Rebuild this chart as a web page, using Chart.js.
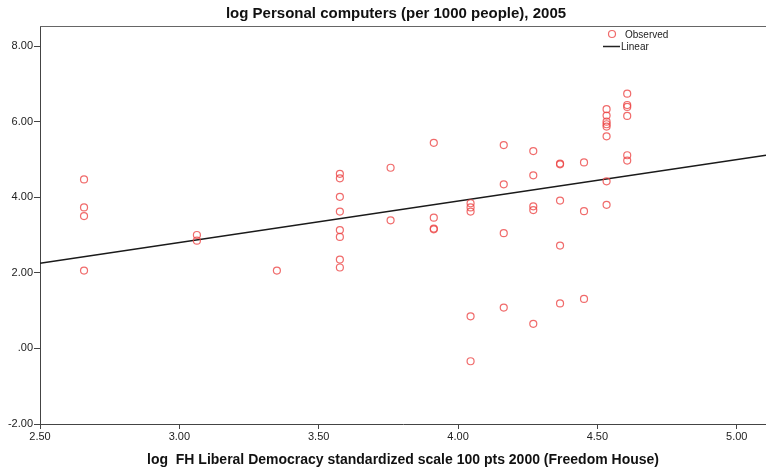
<!DOCTYPE html>
<html lang="en">
<head>
    <meta charset="UTF-8">
    <title>log Personal computers vs Liberal Democracy</title>
    <script src="https://cdn.jsdelivr.net/npm/chart.js"></script>
    <style>
        html, body { margin: 0; padding: 0; background: #fff; }
        canvas { display: block; }
    </style>
</head>
<body>
    <canvas id="scatter" width="766" height="473"></canvas>

    <script>
        // --- data ---
        const obsX = [
            2.658, 2.658, 2.658, 2.658,
            3.063, 3.063,
            3.35,
            3.576, 3.576, 3.576, 3.576, 3.576, 3.576, 3.576, 3.576,
            3.758, 3.758,
            3.913, 3.913, 3.913, 3.913,
            4.045, 4.045, 4.045, 4.045, 4.045,
            4.164, 4.164, 4.164, 4.164,
            4.27, 4.27, 4.27, 4.27, 4.27,
            4.366, 4.366, 4.366, 4.366, 4.366,
            4.452, 4.452, 4.452,
            4.533, 4.533, 4.533, 4.533, 4.533, 4.533, 4.533, 4.533,
            4.607, 4.607, 4.607, 4.607, 4.607, 4.607
        ];
        const obsY = [
            4.47, 3.73, 3.50, 2.06,
            3.00, 2.85,
            2.06,
            4.62, 4.50, 4.01, 3.62, 3.13, 2.95, 2.35, 2.14,
            4.78, 3.39,
            5.44, 3.46, 3.17, 3.15,
            3.84, 3.73, 3.62, 0.85, -0.34,
            5.38, 4.34, 3.05, 1.08,
            5.22, 4.58, 3.76, 3.66, 0.65,
            4.89, 4.87, 3.91, 2.72, 1.19,
            4.92, 3.63, 1.31,
            6.33, 6.16, 6.00, 5.93, 5.87, 5.61, 4.42, 3.80,
            6.74, 6.44, 6.39, 6.15, 5.11, 4.97
        ];

        // fitted line end points
        const fitX = [2.5, 5.105];
        const fitY = [2.25, 5.11];

        const xTicks = [2.5, 3.0, 3.5, 4.0, 4.5, 5.0];
        const yTicks = [-2, 0, 2, 4, 6, 8];

        const titleText = 'log Personal computers (per 1000 people), 2005';
        const xTitleText = 'log  FH Liberal Democracy standardized scale 100 pts 2000 (Freedom House)';

        const pointColor = 'rgba(236, 70, 70, 0.8)';
        const axisColor = '#444';
        const fontFamily = '"Liberation Sans", Arial, sans-serif';

        function fmt(v) {
            const s = Number(v).toFixed(2);
            if (s === '0.00') return '.00';
            return s;
        }

        // title, top frame line and legend
        const framePlugin = {
            id: 'frameAndLegend',
            afterDraw(chart) {
                const ctx = chart.ctx;
                const a = chart.chartArea;
                ctx.save();
                ctx.strokeStyle = '#666';
                ctx.lineWidth = 1;
                ctx.beginPath();
                ctx.moveTo(a.left, Math.round(a.top) + 0.5);
                ctx.lineTo(a.right, Math.round(a.top) + 0.5);
                ctx.stroke();

                // chart title
                ctx.font = 'bold 15px ' + fontFamily;
                ctx.fillStyle = '#111';
                ctx.textAlign = 'center';
                ctx.textBaseline = 'middle';
                ctx.fillText(titleText, 396, 14);

                // legend
                ctx.textAlign = 'left';
                ctx.font = '10px ' + fontFamily;
                ctx.fillStyle = '#222';
                ctx.strokeStyle = pointColor;
                ctx.lineWidth = 1.2;
                ctx.beginPath();
                ctx.arc(612, 34, 3.5, 0, Math.PI * 2);
                ctx.stroke();
                ctx.fillText('Observed', 625, 35);

                ctx.strokeStyle = '#222';
                ctx.lineWidth = 1.5;
                ctx.beginPath();
                ctx.moveTo(603, 46.5);
                ctx.lineTo(620, 46.5);
                ctx.stroke();
                ctx.fillText('Linear', 621, 47);
                ctx.restore();
            }
        };

        const ctx = document.getElementById('scatter').getContext('2d');
        new Chart(ctx, {
            type: 'scatter',
            data: {
                datasets: [
                    {
                        label: 'Observed',
                        data: obsX.map((x, i) => ({ x: x, y: obsY[i] })),
                        pointRadius: 3.5,
                        pointHoverRadius: 3.5,
                        borderWidth: 1.2,
                        borderColor: pointColor,
                        backgroundColor: 'rgba(0,0,0,0)'
                    },
                    {
                        type: 'line',
                        label: 'Linear',
                        data: fitX.map((x, i) => ({ x: x, y: fitY[i] })),
                        borderColor: '#1a1a1a',
                        borderWidth: 1.5,
                        pointRadius: 0,
                        fill: false
                    }
                ]
            },
            options: {
                responsive: false,
                animation: false,
                layout: { autoPadding: false, padding: { left: 0, right: 0, top: 26, bottom: 0 } },
                plugins: {
                    legend: { display: false },
                    tooltip: { enabled: false },
                    title: { display: false }
                },
                scales: {
                    x: {
                        type: 'linear',
                        min: 2.5,
                        max: 5.105,
                        afterBuildTicks: s => { s.ticks = xTicks.map(v => ({ value: v })); },
                        afterFit: s => { s.height = 49; },
                        grid: { display: true, drawOnChartArea: false, tickLength: 5, color: axisColor },
                        border: { display: true, color: axisColor, width: 1 },
                        ticks: {
                            color: '#222',
                            padding: 1,
                            maxRotation: 0,
                            font: { family: fontFamily, size: 11 },
                            callback: v => fmt(v)
                        },
                        title: {
                            display: true,
                            text: xTitleText,
                            color: '#111',
                            font: { family: fontFamily, size: 14, weight: 'bold' },
                            padding: { top: 0, bottom: 4 }
                        }
                    },
                    y: {
                        type: 'linear',
                        min: -2,
                        max: 8.53,
                        afterBuildTicks: s => { s.ticks = yTicks.map(v => ({ value: v })); },
                        afterFit: s => { s.width = 40; },
                        grid: { display: true, drawOnChartArea: false, tickLength: 6, color: axisColor },
                        border: { display: true, color: axisColor, width: 1 },
                        ticks: {
                            color: '#222',
                            padding: 1,
                            font: { family: fontFamily, size: 11 },
                            callback: v => fmt(v)
                        }
                    }
                }
            },
            plugins: [framePlugin]
        });
    </script>
</body>
</html>
